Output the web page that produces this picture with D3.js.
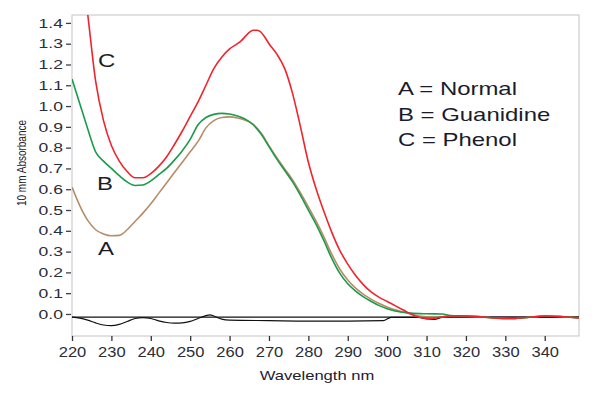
<!DOCTYPE html>
<html>
<head>
<meta charset="utf-8">
<script src="https://cdn.jsdelivr.net/npm/d3@7"></script>
<style>
  body { margin: 0; background: #fff; }
  text { font-family: "Liberation Sans", Arial, sans-serif; }
</style>
</head>
<body>
<svg id="chart" width="594" height="394"></svg>
<script>
// ---- data (wavelength nm, absorbance) ----
const normalA = [[220,0.61],[222,0.52],[224,0.45],[226,0.405],[228,0.385],[230,0.376],[232,0.378],[234,0.405],[236,0.445],[238,0.485],[240,0.53],[242,0.58],[244,0.63],[246,0.68],[248,0.73],[250,0.78],[252,0.83],[254,0.895],[256,0.93],[258,0.945],[260,0.948],[262,0.943],[264,0.932],[266,0.912],[268,0.87],[270,0.81],[272,0.752],[274,0.698],[276,0.645],[278,0.582],[280,0.515],[282,0.445],[284,0.368],[286,0.285],[288,0.215],[290,0.163],[292,0.124],[294,0.094],[296,0.07],[298,0.05],[300,0.034],[302,0.02],[304,0.01],[306,0.0],[308,-0.01],[312,-0.015],[316,-0.012],[320,-0.012],[324,-0.014],[328,-0.02],[332,-0.022],[336,-0.016],[340,-0.01],[344,-0.012],[349,-0.02]];
const guanidineB = [[220,1.13],[222,1.01],[224,0.89],[226,0.78],[228,0.735],[230,0.70],[232,0.665],[234,0.635],[236,0.618],[238,0.62],[240,0.64],[242,0.67],[244,0.70],[246,0.74],[248,0.785],[250,0.84],[252,0.91],[254,0.945],[256,0.96],[258,0.965],[260,0.962],[262,0.952],[264,0.937],[266,0.91],[268,0.865],[270,0.805],[272,0.745],[274,0.69],[276,0.635],[278,0.57],[280,0.50],[282,0.43],[284,0.35],[286,0.265],[288,0.195],[290,0.145],[292,0.11],[294,0.082],[296,0.06],[298,0.04],[300,0.025],[302,0.014],[304,0.008],[306,0.004],[310,0.001],[314,0.0],[316,-0.008],[320,-0.01],[324,-0.014],[328,-0.02],[332,-0.022],[336,-0.016],[340,-0.01],[344,-0.012],[349,-0.02]];
const phenolC = [[220,2.10],[222,1.75],[224,1.44],[226,1.12],[228,0.93],[230,0.81],[232,0.735],[234,0.685],[236,0.655],[238,0.655],[240,0.675],[242,0.71],[244,0.755],[246,0.815],[248,0.88],[250,0.95],[252,1.02],[254,1.10],[256,1.18],[258,1.235],[260,1.275],[262,1.30],[263,1.315],[264,1.335],[265,1.355],[266,1.365],[267,1.365],[268,1.355],[269,1.33],[270,1.30],[272,1.25],[274,1.18],[276,1.06],[278,0.90],[280,0.73],[282,0.60],[284,0.49],[286,0.39],[288,0.305],[290,0.24],[292,0.185],[294,0.14],[296,0.105],[298,0.08],[300,0.06],[302,0.04],[304,0.02],[306,0.0],[308,-0.015],[310,-0.022],[312,-0.02],[314,-0.014],[316,-0.01],[320,-0.01],[324,-0.014],[328,-0.02],[332,-0.022],[336,-0.016],[340,-0.01],[344,-0.012],[349,-0.02]];
const difference = [[220,-0.015],[222,-0.02],[224,-0.03],[226,-0.043],[228,-0.053],[230,-0.056],[232,-0.05],[234,-0.036],[236,-0.022],[238,-0.018],[240,-0.022],[242,-0.033],[244,-0.041],[246,-0.044],[248,-0.043],[250,-0.036],[252,-0.022],[254,-0.008],[255,-0.004],[256,-0.01],[258,-0.025],[260,-0.03],[270,-0.032],[280,-0.034],[290,-0.034],[299,-0.032],[301,-0.016],[308,-0.016],[310,-0.024],[312,-0.026],[314,-0.016],[320,-0.015],[349,-0.015]];
const baseline = [[220,-0.015],[349,-0.015]];

const xTicks = [220,230,240,250,260,270,280,290,300,310,320,330,340];
const yTicks = [0.0,0.1,0.2,0.3,0.4,0.5,0.6,0.7,0.8,0.9,1.0,1.1,1.2,1.3,1.4];
const legendLines = ['A = Normal', 'B = Guanidine', 'C = Phenol'];

// ---- layout ----
const plot = {left: 72, right: 579, top: 15, bottom: 336};
const stretch = 1.33;   // text in the source figure is wide

const svg = d3.select('#chart');

const x = d3.scaleLinear().domain([220, 348.7]).range([plot.left, plot.right]);
const y = d3.scaleLinear().domain([-0.106, 1.438]).range([plot.bottom, plot.top]);

// frame
svg.append('rect')
  .attr('x', plot.left).attr('y', plot.top)
  .attr('width', plot.right - plot.left).attr('height', plot.bottom - plot.top)
  .attr('fill', 'none').attr('stroke', '#c4c4c4').attr('stroke-width', 1);

// x axis
const xAxis = svg.append('g')
  .attr('transform', `translate(0,${plot.bottom})`)
  .call(d3.axisBottom(x).tickValues(xTicks).tickSize(5).tickPadding(6).tickSizeOuter(0));
xAxis.select('.domain').remove();
xAxis.selectAll('line').attr('stroke', '#333').attr('stroke-width', 1.3);
xAxis.selectAll('text')
  .attr('fill', '#2a2d3a').style('font-size', '14px')
  .attr('transform', function() { return `translate(0,${d3.select(this).attr('y')}) scale(1.18,1)`; })
  .attr('y', 0);

// y axis
const yAxis = svg.append('g')
  .attr('transform', `translate(${plot.left - 1},0)`)
  .call(d3.axisLeft(y).tickValues(yTicks).tickFormat(d3.format('.1f')).tickSize(5).tickPadding(3).tickSizeOuter(0));
yAxis.select('.domain').remove();
yAxis.selectAll('line').attr('stroke', '#3a4050').attr('stroke-width', 1.3);
yAxis.selectAll('text')
  .attr('fill', '#2a2d3a').style('font-size', '13px')
  .attr('transform', function() { return `translate(${d3.select(this).attr('x')},0) scale(1.35,1)`; })
  .attr('x', 0);

// axis titles
svg.append('text')
  .attr('transform', `translate(317,380) scale(${stretch},1)`)
  .attr('text-anchor', 'middle')
  .style('font-size', '12.5px').attr('fill', '#1d2030')
  .text('Wavelength nm');

svg.append('text')
  .attr('transform', `translate(26,163) rotate(-90) scale(1,${stretch})`)
  .attr('text-anchor', 'middle')
  .style('font-size', '10px').attr('fill', '#1d2030')
  .text('10 mm Absorbance');

// curves
svg.append('clipPath').attr('id', 'clip')
  .append('rect')
  .attr('x', plot.left).attr('y', plot.top)
  .attr('width', plot.right - plot.left).attr('height', plot.bottom - plot.top);

const line = d3.line()
  .x(d => x(d[0]))
  .y(d => y(d[1]))
  .curve(d3.curveMonotoneX);

const curves = svg.append('g').attr('clip-path', 'url(#clip)');
const series = [
  {data: baseline, color: '#111', width: 1.4},
  {data: difference, color: '#111', width: 1.2},
  {data: normalA, color: '#b58d66', width: 1.6},
  {data: guanidineB, color: '#1c9a4b', width: 1.6},
  {data: phenolC, color: '#f0242c', width: 1.6}
];
series.forEach(s => {
  curves.append('path')
    .datum(s.data)
    .attr('d', line)
    .attr('fill', 'none')
    .attr('stroke', s.color)
    .attr('stroke-width', s.width)
    .attr('stroke-linejoin', 'round');
});

// curve labels
const curveLabels = [
  {t: 'C', x: 98, y: 66.5},
  {t: 'B', x: 97, y: 190},
  {t: 'A', x: 98, y: 255}
];
curveLabels.forEach(l => {
  svg.append('text')
    .attr('transform', `translate(${l.x},${l.y}) scale(${stretch},1)`)
    .style('font-size', '18px').attr('fill', '#1a1c2c')
    .text(l.t);
});

// legend
legendLines.forEach((t, i) => {
  svg.append('text')
    .attr('transform', `translate(398,${95 + i * 25.5}) scale(${stretch},1)`)
    .style('font-size', '18px').attr('fill', '#1a1c2c')
    .text(t);
});
</script>
</body>
</html>
